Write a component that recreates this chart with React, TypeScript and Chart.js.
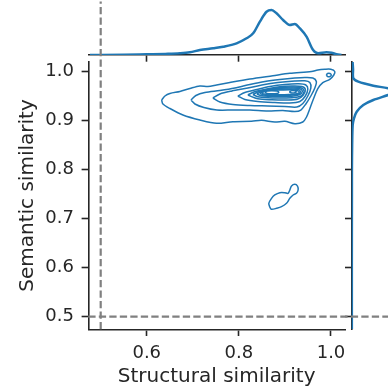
import React, { useEffect, useRef } from "react";
import { Chart, registerables } from "chart.js";

Chart.register(...registerables);

// ---------- data ----------
const xTicks = [0.6, 0.8, 1.0];
const xTickLabels = ["0.6", "0.8", "1.0"];
const yTicks = [0.5, 0.6, 0.7, 0.8, 0.9, 1.0];
const yTickLabels = ["0.5", "0.6", "0.7", "0.8", "0.9", "1.0"];
const xRange = [0.4731, 1.0304];
const yRange = [0.4743, 1.0204];
const refX = 0.5;
const refY = 0.5;
const xTitle = "Structural similarity";
const yTitle = "Semantic similarity";

// KDE contour lines (x, y)
const contourOuter = [[0.6323,0.9422],[0.6395,0.9504],[0.6503,0.9555],[0.672,0.9596],[0.6937,0.9657],[0.7154,0.9708],[0.7328,0.9698],[0.7516,0.9729],[0.7805,0.978],[0.8239,0.9851],[0.8738,0.9918],[0.9106,0.9967],[0.9577,1.0004],[0.9714,1.0035],[0.9866,1.0049],[0.9996,1.0049],[1.0082,1.0004],[1.0061,0.9933],[0.9974,0.9845],[0.9822,0.9776],[0.9714,0.9653],[0.9627,0.9463],[0.954,0.9245],[0.9469,0.9076],[0.9388,0.8973],[0.9215,0.8939],[0.8998,0.8988],[0.878,0.8973],[0.8492,0.9008],[0.8275,0.8988],[0.787,0.898],[0.7516,0.8947],[0.7154,0.9014],[0.6785,0.9116],[0.6503,0.9249],[0.6351,0.9341]];
const contourTopIsland = [[0.9898,0.9933],[0.9925,0.9963],[0.9979,0.9963],[1.0006,0.9933],[0.9979,0.9903],[0.9925,0.9903]];
const contour2 = [[0.6959,0.9422],[0.7067,0.9514],[0.7262,0.9576],[0.7588,0.9616],[0.7913,0.9667],[0.8239,0.9739],[0.8564,0.98],[0.889,0.9841],[0.9215,0.9871],[0.9432,0.9882],[0.9606,0.9871],[0.9682,0.98],[0.9649,0.9667],[0.9562,0.9504],[0.9454,0.9341],[0.9345,0.9218],[0.9215,0.9188],[0.8955,0.9208],[0.8629,0.9198],[0.8239,0.9218],[0.787,0.9218],[0.7523,0.9218],[0.7241,0.9269],[0.7046,0.9341]];
const contour3 = [[0.7436,0.9463],[0.7588,0.9545],[0.7848,0.9606],[0.8195,0.9667],[0.8499,0.9729],[0.8846,0.978],[0.9215,0.981],[0.9432,0.9814],[0.9541,0.978],[0.9562,0.9667],[0.9497,0.9504],[0.9389,0.9351],[0.9259,0.9279],[0.8998,0.929],[0.8629,0.93],[0.8239,0.931],[0.787,0.9331],[0.7588,0.9382]];
const contour4 = [[0.7978,0.9504],[0.813,0.9576],[0.8391,0.9637],[0.8673,0.9698],[0.8998,0.9739],[0.9302,0.9753],[0.9454,0.9729],[0.9497,0.9647],[0.9443,0.9504],[0.9324,0.9392],[0.9107,0.9361],[0.8781,0.9371],[0.8412,0.9392],[0.813,0.9433]];
const contour5 = [[0.8195,0.9524],[0.8325,0.9586],[0.8564,0.9637],[0.8846,0.9688],[0.915,0.9708],[0.9367,0.9698],[0.9443,0.9637],[0.9399,0.9524],[0.928,0.9443],[0.9042,0.9422],[0.8716,0.9427],[0.8412,0.9447]];
const contour6 = [[0.8304,0.9535],[0.8434,0.9596],[0.8629,0.9643],[0.889,0.9678],[0.9172,0.9688],[0.9345,0.9671],[0.9416,0.9606],[0.9367,0.9514],[0.9193,0.9473],[0.8933,0.9463],[0.8629,0.9467],[0.8412,0.9488]];
const contour7 = [[0.8391,0.9545],[0.8499,0.9602],[0.8673,0.9641],[0.8911,0.9661],[0.9172,0.9667],[0.9335,0.9647],[0.9378,0.9596],[0.9324,0.9535],[0.915,0.9498],[0.8911,0.9492],[0.8629,0.9498],[0.8477,0.9514]];
const contour8 = [[0.8456,0.9555],[0.8542,0.9606],[0.8694,0.9631],[0.8911,0.9643],[0.915,0.9647],[0.93,0.9631],[0.934,0.959],[0.9291,0.9545],[0.9107,0.9518],[0.8868,0.9512],[0.8629,0.9518],[0.8521,0.9531]];
const contour9 = [[0.8499,0.9565],[0.8586,0.9612],[0.8716,0.9622],[0.8911,0.9627],[0.9128,0.9631],[0.9259,0.9618],[0.9313,0.9586],[0.9259,0.9549],[0.9085,0.9533],[0.8868,0.9529],[0.8651,0.9533],[0.8542,0.9545]];
const contourPeakA = [[0.8564,0.9582],[0.8608,0.9606],[0.8716,0.9612],[0.8825,0.9606],[0.8868,0.9582],[0.8825,0.9557],[0.8716,0.9551],[0.8608,0.9557]];
const contourPeakB = [[0.9095,0.959],[0.9128,0.9608],[0.9172,0.9614],[0.9215,0.9608],[0.9248,0.959],[0.9215,0.9571],[0.9172,0.9565],[0.9128,0.9571]];
const contourLowIsland = [[0.8672,0.7233],[0.865,0.7314],[0.8709,0.7416],[0.878,0.7484],[0.8889,0.7531],[0.8997,0.7531],[0.9069,0.7518],[0.9106,0.7586],[0.9143,0.7667],[0.9214,0.7702],[0.9273,0.7667],[0.9286,0.7586],[0.9251,0.7518],[0.9178,0.7484],[0.9106,0.7416],[0.9034,0.7314],[0.8926,0.7245],[0.8817,0.7212],[0.8709,0.7192]];

const contours = [contourOuter, contourTopIsland, contour2, contour3, contour4, contour5, contour6, contour7, contour8, contour9, contourPeakA, contourPeakB, contourLowIsland];

// marginal KDE of x (relative density, peak = 1)
const xMargX = [0.4768, 0.55, 0.5998, 0.64, 0.672, 0.6937, 0.7154, 0.7443, 0.766, 0.795, 0.8167, 0.831, 0.8456, 0.86, 0.871, 0.8818, 0.896, 0.9106, 0.9215, 0.9323, 0.9469, 0.9612, 0.972, 0.9902, 1.001, 1.012, 1.0228];
const xMargD = [0, 0.005, 0.016, 0.025, 0.038, 0.06, 0.111, 0.149, 0.184, 0.26, 0.371, 0.482, 0.74, 0.962, 1.0, 0.926, 0.778, 0.667, 0.689, 0.593, 0.407, 0.111, 0.038, 0.06, 0.051, 0.016, 0];
const xMargMax = 1.191;

// marginal KDE of y (relative density, peak = 1)
const yMargY = [1.0198, 1.005, 0.9865, 0.9796, 0.9714, 0.9661, 0.9596, 0.9524, 0.9422, 0.932, 0.9184, 0.9049, 0.8912, 0.85, 0.8, 0.75, 0.7, 0.6, 0.5, 0.4746];
const yMargD = [0.02, 0.03, 0.036, 0.147, 0.48, 0.81, 1.0, 0.81, 0.48, 0.258, 0.111, 0.051, 0.022, 0.01, 0.005, 0.005, 0.004, 0.003, 0.003, 0.003];
const yMargMax = 0.807;

// ---------- style / layout ----------
const W = 388;
const H = 392;
const FONT = "'DejaVu Sans', 'Liberation Sans', sans-serif";
const INK = "#262626";
const BLUE = "#1f77b4";
const MAIN = { left: 88.3, right: 345, top: 61.7, bottom: 329.3 };
const TOPM = { top: 1.4, bottom: 55 };
const RIGHTM = { left: 351.7 };
const TICK_LEN = 6.7;
const SPINE = 1.6;

const gridCfg = {
  drawOnChartArea: false,
  drawTicks: true,
  tickLength: TICK_LEN,
  tickColor: INK,
  tickWidth: SPINE,
};
const borderCfg = { display: true, color: INK, width: SPINE };

function closed(pairs: number[][]) {
  return [...pairs, pairs[0]].map(([x, y]) => ({ x, y }));
}

const refLines = {
  id: "refLines",
  afterDatasetsDraw(chart: any) {
    const { ctx, chartArea, scales } = chart;
    const px = scales.x.getPixelForValue(refX);
    const py = scales.y.getPixelForValue(refY);
    ctx.save();
    ctx.strokeStyle = "#808080";
    ctx.lineWidth = 2.2;
    ctx.setLineDash([7.3, 3.2]);
    ctx.beginPath();
    ctx.moveTo(px, chartArea.bottom);
    ctx.lineTo(px, TOPM.top);
    ctx.stroke();
    ctx.beginPath();
    ctx.moveTo(chartArea.left, py);
    ctx.lineTo(chart.width, py);
    ctx.stroke();
    ctx.restore();
  },
};

export default function App() {
  const mainRef = useRef<HTMLCanvasElement>(null);
  const topRef = useRef<HTMLCanvasElement>(null);
  const rightRef = useRef<HTMLCanvasElement>(null);

  useEffect(() => {
    const common = {
      animation: false as const,
      responsive: false,
      events: [] as any[],
      plugins: { legend: { display: false }, tooltip: { enabled: false } },
    };

    const main = new Chart(mainRef.current!, {
      type: "scatter",
      data: {
        datasets: contours.map((c) => ({
          data: closed(c),
          showLine: true,
          pointRadius: 0,
          borderColor: BLUE,
          borderWidth: 1.5,
          tension: 0.3,
          fill: false,
        })),
      },
      options: {
        ...common,
        layout: { padding: { left: 0, top: MAIN.top, right: W - MAIN.right, bottom: 0 } },
        scales: {
          x: {
            type: "linear",
            position: "bottom",
            min: xRange[0],
            max: xRange[1],
            afterBuildTicks: (s: any) => {
              s.ticks = xTicks.map((v) => ({ value: v }));
            },
            afterFit: (s: any) => {
              s.height = H - MAIN.bottom;
            },
            grid: gridCfg,
            border: borderCfg,
            ticks: {
              color: INK,
              font: { family: FONT, size: 18 },
              padding: 7,
              maxRotation: 0,
              autoSkip: false,
              callback: (_v: any, i: number) => xTickLabels[i],
            },
            title: {
              display: true,
              text: xTitle,
              color: INK,
              font: { family: FONT, size: 20 },
              padding: { top: 0, bottom: 3 },
            },
          },
          y: {
            type: "linear",
            position: "left",
            min: yRange[0],
            max: yRange[1],
            afterBuildTicks: (s: any) => {
              s.ticks = yTicks.map((v) => ({ value: v }));
            },
            afterFit: (s: any) => {
              s.width = MAIN.left;
            },
            grid: gridCfg,
            border: borderCfg,
            ticks: {
              color: INK,
              font: { family: FONT, size: 18 },
              padding: 7.6,
              autoSkip: false,
              callback: (_v: any, i: number) => yTickLabels[i],
            },
            title: {
              display: true,
              text: yTitle,
              color: INK,
              font: { family: FONT, size: 20 },
              padding: { top: 15.4, bottom: 0 },
            },
          },
        },
      } as any,
      plugins: [refLines],
    });

    const top = new Chart(topRef.current!, {
      type: "scatter",
      data: {
        datasets: [
          {
            data: xMargX.map((x, i) => ({ x, y: xMargD[i] })),
            showLine: true,
            pointRadius: 0,
            borderColor: BLUE,
            borderWidth: 2.5,
            cubicInterpolationMode: "monotone",
            fill: false,
          },
        ],
      },
      options: {
        ...common,
        layout: { padding: { left: MAIN.left, top: TOPM.top, right: W - MAIN.right, bottom: 0 } },
        scales: {
          x: {
            type: "linear",
            position: "bottom",
            min: xRange[0],
            max: xRange[1],
            afterBuildTicks: (s: any) => {
              s.ticks = xTicks.map((v) => ({ value: v }));
            },
            afterFit: (s: any) => {
              s.height = H - TOPM.bottom;
            },
            grid: gridCfg,
            border: borderCfg,
            ticks: { color: "rgba(0,0,0,0)", autoSkip: false, maxRotation: 0 },
          },
          y: { display: false, min: 0, max: xMargMax },
        },
      } as any,
    });

    const right = new Chart(rightRef.current!, {
      type: "scatter",
      data: {
        datasets: [
          {
            data: yMargY.map((y, i) => ({ x: yMargD[i], y })),
            showLine: true,
            pointRadius: 0,
            borderColor: BLUE,
            borderWidth: 2.5,
            tension: 0.3,
            fill: false,
          },
        ],
      },
      options: {
        ...common,
        layout: { padding: { left: 0, top: MAIN.top, right: 0, bottom: H - MAIN.bottom } },
        scales: {
          x: { display: false, min: 0, max: yMargMax },
          y: {
            type: "linear",
            position: "left",
            min: yRange[0],
            max: yRange[1],
            afterBuildTicks: (s: any) => {
              s.ticks = yTicks.map((v) => ({ value: v }));
            },
            afterFit: (s: any) => {
              s.width = RIGHTM.left;
            },
            grid: gridCfg,
            border: borderCfg,
            ticks: { color: "rgba(0,0,0,0)", autoSkip: false },
          },
        },
      } as any,
    });

    return () => {
      main.destroy();
      top.destroy();
      right.destroy();
    };
  }, []);

  const canvasStyle: React.CSSProperties = { position: "absolute", left: 0, top: 0 };
  return (
    <div style={{ position: "fixed", left: 0, top: 0, width: W, height: H, background: "#fff" }}>
      <canvas ref={topRef} width={W} height={H} style={canvasStyle} />
      <canvas ref={rightRef} width={W} height={H} style={canvasStyle} />
      <canvas ref={mainRef} width={W} height={H} style={canvasStyle} />
    </div>
  );
}
